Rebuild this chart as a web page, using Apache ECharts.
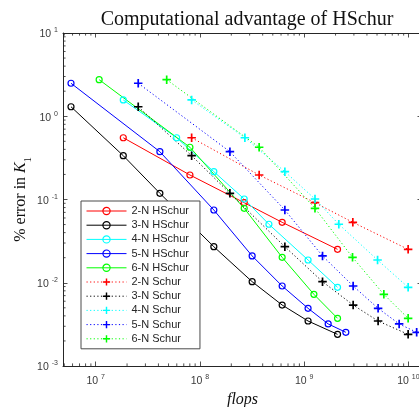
<!DOCTYPE html>
<html><head><meta charset="utf-8">
<script src="https://cdn.jsdelivr.net/npm/echarts@6/dist/echarts.min.js"></script>
<style>html,body{margin:0;padding:0;background:#fff}#c{width:419px;height:407px}</style>
</head><body><div id="c"></div>
<script>
// ---- data ----
const titleText = 'Computational advantage of HSchur';
const names = ['2-N HSchur','3-N HSchur','4-N HSchur','5-N HSchur','6-N HSchur',
               '2-N Schur','3-N Schur','4-N Schur','5-N Schur','6-N Schur'];
const colorsByN = ['#ff0000','#000000','#00ffff','#0000ff','#00ff00'];

// 2-N
const hs2Flops = [1.84e7, 8.02e7, 2.66e8, 6.15e8, 2.09e9];
const hs2Err   = [0.552, 0.197, 0.0915, 0.0532, 0.0252];
const s2Flops  = [8.33e7, 3.70e8, 1.27e9, 2.93e9, 9.94e9];
const s2Err    = [0.552, 0.197, 0.0915, 0.0532, 0.0252];
// 3-N
const hs3Flops = [5.80e6, 1.84e7, 4.13e7, 1.36e8, 3.17e8, 6.15e8, 1.09e9, 2.09e9];
const hs3Err   = [1.30, 0.336, 0.1187, 0.0271, 0.0103, 0.0054, 0.00347, 0.0024];
const s3Flops  = [2.56e7, 8.33e7, 1.94e8, 6.53e8, 1.50e9, 2.95e9, 5.12e9, 9.94e9];
const s3Err    = [1.30, 0.336, 0.1187, 0.0271, 0.0103, 0.0054, 0.00347, 0.0024];
// 4-N
const hs4Flops = [1.84e7, 5.98e7, 1.36e8, 2.66e8, 4.59e8, 1.09e9, 2.09e9];
const hs4Err   = [1.57, 0.552, 0.216, 0.1014, 0.0504, 0.01877, 0.00882];
const s4Flops  = [8.33e7, 2.70e8, 6.53e8, 1.27e9, 2.15e9, 5.06e9, 9.94e9];
const s4Err    = [1.57, 0.552, 0.216, 0.1014, 0.0504, 0.01877, 0.00882];
// 5-N
const hs5Flops = [5.80e6, 4.13e7, 1.36e8, 3.17e8, 6.15e8, 1.09e9, 1.70e9, 2.51e9];
const hs5Err   = [2.49, 0.375, 0.0748, 0.0210, 0.00914, 0.00493, 0.00320, 0.00254];
const s5Flops  = [2.56e7, 1.94e8, 6.53e8, 1.50e9, 2.95e9, 5.12e9, 8.15e9, 1.20e10];
const s5Err    = [2.49, 0.375, 0.0748, 0.0210, 0.00914, 0.00493, 0.00320, 0.00254];
// 6-N
const hs6Flops = [1.08e7, 8.02e7, 2.66e8, 6.15e8, 1.24e9, 2.09e9];
const hs6Err   = [2.75, 0.424, 0.0784, 0.0202, 0.00726, 0.00374];
const s6Flops  = [4.80e7, 3.70e8, 1.27e9, 2.91e9, 5.81e9, 9.94e9];
const s6Err    = [2.75, 0.424, 0.0784, 0.0202, 0.00726, 0.00374];

const xMin = 4.86e6, xMax = 1.35e10;
const yMin = 1e-3, yMax = 1e1;

// ---- build chart ----
const hsX = [hs2Flops, hs3Flops, hs4Flops, hs5Flops, hs6Flops];
const hsY = [hs2Err, hs3Err, hs4Err, hs5Err, hs6Err];
const sX = [s2Flops, s3Flops, s4Flops, s5Flops, s6Flops];
const sY = [s2Err, s3Err, s4Err, s5Err, s6Err];
const zip = (a, b) => a.map((v, i) => [v, b[i]]);
const plusPath = 'path://M4,0H6V4H10V6H6V10H4V6H0V4H4Z';
const axisColor = '#262626';
const labelColor = '#3a3a3a';

const series = [];
for (let i = 0; i < 5; i++) {
  series.push({
    name: names[i], type: 'line', data: zip(hsX[i], hsY[i]),
    symbol: 'circle', symbolSize: 6, showSymbol: true,
    lineStyle: { color: colorsByN[i], width: 1 },
    itemStyle: { color: 'rgba(255,255,255,0)', borderColor: colorsByN[i], borderWidth: 1.2 },
    emphasis: { disabled: true }, animation: false
  });
}
for (let i = 0; i < 5; i++) {
  series.push({
    name: names[5 + i], type: 'line', data: zip(sX[i], sY[i]),
    symbol: plusPath, symbolSize: 8.5, showSymbol: true,
    lineStyle: { color: colorsByN[i], width: 1, type: [1.2, 2.4] },
    itemStyle: { color: colorsByN[i], borderWidth: 0 },
    emphasis: { disabled: true }, animation: false
  });
}

// minor ticks (log axes) drawn through the axes' own scales
const xMinor = [], yMinor = [];
for (let e = 6; e <= 9; e++) for (let m = 2; m <= 9; m++) { const v = m * Math.pow(10, e); if (v > xMin && v < xMax) xMinor.push([v, yMin]); }
for (let e = -3; e <= 0; e++) for (let m = 2; m <= 9; m++) { const v = m * Math.pow(10, e); if (v > yMin && v < yMax) yMinor.push([xMin, v]); }
const minorLen = 2.6;
series.push({
  type: 'custom', data: xMinor, silent: true, animation: false, clip: false, z: 1,
  renderItem: (params, api) => {
    const v = api.value(0);
    const b = api.coord([v, yMin]), t = api.coord([v, yMax]);
    const s = { stroke: axisColor, lineWidth: 0.8 };
    return { type: 'group', children: [
      { type: 'line', shape: { x1: b[0], y1: b[1], x2: b[0], y2: b[1] - minorLen }, style: s },
      { type: 'line', shape: { x1: t[0], y1: t[1], x2: t[0], y2: t[1] + minorLen }, style: s }
    ]};
  }
});
series.push({
  type: 'custom', data: yMinor, silent: true, animation: false, clip: false, z: 1,
  renderItem: (params, api) => {
    const v = api.value(1);
    const l = api.coord([xMin, v]), r = api.coord([xMax, v]);
    const s = { stroke: axisColor, lineWidth: 0.8 };
    return { type: 'group', children: [
      { type: 'line', shape: { x1: l[0], y1: l[1], x2: l[0] + minorLen, y2: l[1] }, style: s },
      { type: 'line', shape: { x1: r[0], y1: r[1], x2: r[0] - minorLen, y2: r[1] }, style: s }
    ]};
  }
});

const expFmt = v => '{b|10}{s|' + Math.round(Math.log10(v)) + '}';
const tickRich = {
  b: { fontSize: 10.5, lineHeight: 12, fontFamily: 'Liberation Sans', color: labelColor, padding: [3, 0, 0, 0] },
  s: { fontSize: 7, lineHeight: 8, fontFamily: 'Liberation Sans', color: labelColor, verticalAlign: 'top', padding: [0, 0, 0, 3] }
};
const baseAxis = {
  type: 'log', logBase: 10,
  axisLine: { show: true, lineStyle: { color: axisColor, width: 1 } },
  axisTick: { show: true, inside: true, length: 4.5, lineStyle: { color: axisColor, width: 0.8 } },
  splitLine: { show: false }, minorTick: { show: false }, minorSplitLine: { show: false }
};

const legendData = names.map((n, i) => ({ name: n, itemStyle: i < 5 ? { borderWidth: 1.2, color: 'rgba(255,255,255,0)' } : { borderWidth: 0 } }));

const option = {
  animation: false,
  backgroundColor: '#fff',
  title: {
    text: titleText, left: 242, top: 5, textAlign: 'center',
    textStyle: { fontFamily: 'Liberation Serif', fontWeight: 'normal', fontSize: 20, color: '#111' }
  },
  grid: { left: 63, top: 33, width: 359, height: 333, containLabel: false, outerBoundsMode: 'none' },
  legend: {
    data: legendData, orient: 'vertical', left: 81, top: 201,
    padding: [4, 11, 4, 5], itemWidth: 40, itemHeight: 9, itemGap: 2.2,
    backgroundColor: '#fff', borderColor: '#4a4a4a', borderWidth: 1,
    textStyle: { fontFamily: 'Liberation Sans', fontSize: 11, color: '#262626', lineHeight: 12 },
    lineStyle: { width: 1 }, selectedMode: false
  },
  xAxis: [
    Object.assign({}, baseAxis, {
      min: xMin, max: xMax, position: 'bottom',
      axisLabel: { formatter: expFmt, rich: tickRich, margin: 8, showMinLabel: false, showMaxLabel: false },
      name: 'flops', nameLocation: 'middle', nameGap: 25,
      nameTextStyle: { fontFamily: 'Liberation Serif', fontStyle: 'italic', fontSize: 16, color: '#111' }
    }),
    Object.assign({}, baseAxis, { min: xMin, max: xMax, position: 'top', axisLabel: { show: false } })
  ],
  yAxis: [
    Object.assign({}, baseAxis, {
      min: yMin, max: yMax, position: 'left',
      axisLabel: { formatter: expFmt, rich: tickRich, margin: 5 },
      name: '% error in {i|K}{sub|1}', nameLocation: 'middle', nameGap: 34, nameMoveOverlap: false,
      nameTextStyle: { fontFamily: 'Liberation Serif', fontSize: 16, color: '#111',
        rich: { i: { fontFamily: 'Liberation Serif', fontStyle: 'italic', fontSize: 16, color: '#111' },
                sub: { fontFamily: 'Liberation Serif', fontSize: 10, color: '#111', verticalAlign: 'bottom', padding: [0, 0, -4, 0] } } }
    }),
    Object.assign({}, baseAxis, { min: yMin, max: yMax, position: 'right', axisLabel: { show: false } })
  ],
  series: series
};
const chart = echarts.init(document.getElementById('c'), null, { renderer: 'canvas' });
chart.setOption(option);
</script>
</body></html>
